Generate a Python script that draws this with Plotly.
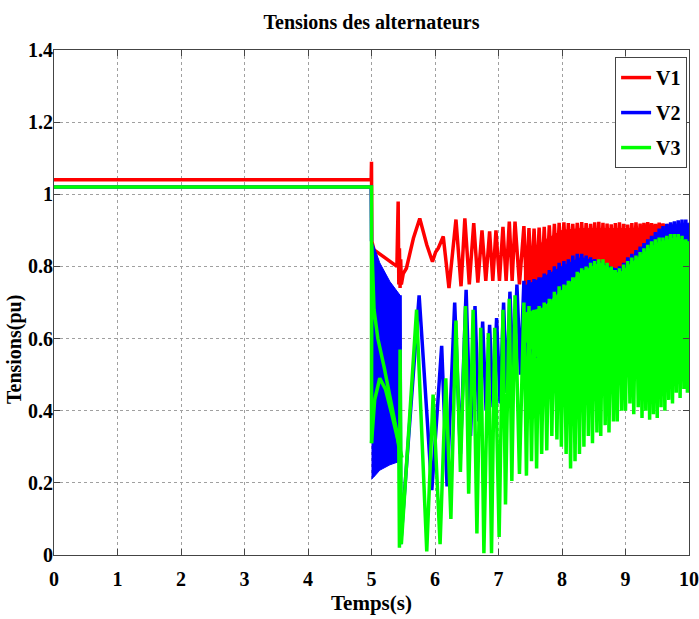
import plotly.graph_objects as go

# ---------------- data ----------------
# V1 : explicit extrema before the dense part
v1_t = [0, 4.995, 5.0, 5.005, 5.04, 5.23, 5.40, 5.42, 5.43, 5.44,
        5.45, 5.46, 5.47, 5.50, 5.55, 5.66, 5.76, 5.87, 5.96, 6.01,
        6.05, 6.13, 6.22, 6.33, 6.41, 6.47, 6.54, 6.61, 6.675, 6.74,
        6.80, 6.86, 6.91, 6.96, 7.015, 7.07, 7.12, 7.17, 7.215, 7.26,
        7.33]
v1_v = [1.04, 1.04, 1.09, 0.87, 0.846, 0.823, 0.80, 0.98, 0.75, 0.85,
        0.74, 0.82, 0.75, 0.78, 0.795, 0.878, 0.933, 0.86, 0.813, 0.84,
        0.85, 0.883, 0.74, 0.93, 0.745, 0.933, 0.75, 0.92, 0.755, 0.90,
        0.76, 0.897, 0.76, 0.90, 0.76, 0.91, 0.76, 0.924, 0.76, 0.924,
        0.75]

# V2 : explicit extrema (None = pen up)
v2_t = [0, 4.995, 5.0, None, 5.45, 5.46, 5.75, 5.95, 6.105, 6.19,
        6.31, 6.40, 6.49, 6.56, 6.63, 6.69, 6.75, 6.805, 6.86, 6.915,
        6.97, 7.025, 7.08, 7.13, 7.18, 7.235, 7.29, 7.345]
v2_v = [1.02, 1.02, 0.87, None, 0.72, 0.03, 0.72, 0.18, 0.58, 0.19,
        0.70, 0.28, 0.735, 0.33, 0.69, 0.37, 0.647, 0.40, 0.638, 0.41,
        0.657, 0.42, 0.70, 0.45, 0.73, 0.48, 0.75, 0.50]
# V2 : dense band just after the fault (upper / lower envelope)
v2_band_t = [5.0, 5.03, 5.13, 5.29, 5.45]
v2_band_hi = [0.87, 0.86, 0.81, 0.758, 0.72]
v2_band_lo = [0.21, 0.215, 0.235, 0.25, 0.26]

# V3 : explicit extrema
v3_t = [0, 4.995, 5.0, 5.0, 5.005, 5.04, 5.10, 5.20, 5.30, 5.40,
        5.43, 5.44, 5.45, 5.47, 5.71, 5.87, 5.97, 6.08, 6.17, 6.25,
        6.33, 6.40, 6.48, 6.53, 6.60, 6.66, 6.72, 6.77, 6.84, 6.89,
        6.94, 7.01, 7.07, 7.11, 7.17, 7.21, 7.26, 7.33]
v3_v = [1.02, 1.02, 1.02, 0.31, 0.86, 0.68, 0.60, 0.52, 0.43, 0.34,
        0.30, 0.02, 0.57, 0.03, 0.68, 0.01, 0.445, 0.03, 0.49, 0.10,
        0.65, 0.23, 0.69, 0.17, 0.68, 0.06, 0.63, 0.005, 0.615, 0.005,
        0.63, 0.05, 0.68, 0.14, 0.71, 0.205, 0.72, 0.225]
# V3 : secondary arc right after the fault
v3_arc_t = [5.0, 5.05, 5.13, 5.22, 5.32, 5.42, 5.48]
v3_arc_v = [0.31, 0.43, 0.49, 0.46, 0.39, 0.31, 0.27]

# Dense oscillation part (7.4 s - 10 s): peak times and trough times
dense_peak_t = [7.40, 7.48, 7.56, 7.64, 7.72, 7.80, 7.88, 7.955, 8.03, 8.10,
                8.17, 8.24, 8.31, 8.38, 8.45, 8.515, 8.58, 8.645, 8.71, 8.775,
                8.84, 8.905, 8.97, 9.035, 9.10, 9.165, 9.23, 9.29, 9.35, 9.41,
                9.47, 9.53, 9.59, 9.65, 9.71, 9.77, 9.83, 9.89, 9.95]
dense_trough_t = [7.44, 7.52, 7.60, 7.68, 7.76, 7.84, 7.92, 7.99, 8.065, 8.135,
                  8.205, 8.275, 8.345, 8.415, 8.48, 8.55, 8.61, 8.68, 8.74, 8.81,
                  8.87, 8.94, 9.00, 9.07, 9.13, 9.20, 9.26, 9.32, 9.38, 9.44,
                  9.50, 9.56, 9.62, 9.68, 9.74, 9.80, 9.86, 9.92, 9.975]

v1_dense_peak = [0.912, 0.906, 0.905, 0.908, 0.910, 0.914, 0.918, 0.921, 0.922, 0.920,
                 0.918, 0.921, 0.923, 0.920, 0.918, 0.922, 0.924, 0.921, 0.919, 0.917,
                 0.920, 0.922, 0.918, 0.916, 0.920, 0.922, 0.919, 0.921, 0.923, 0.920,
                 0.918, 0.921, 0.919, 0.917, 0.916, 0.915, 0.914, 0.915, 0.914]
v1_dense_trough = [0.74, 0.745, 0.75, 0.75, 0.76, 0.77, 0.78, 0.79, 0.79, 0.80,
                   0.805, 0.81, 0.81, 0.80, 0.80, 0.79, 0.79, 0.785, 0.775, 0.77,
                   0.77, 0.775, 0.785, 0.80, 0.81, 0.82, 0.83, 0.84, 0.85, 0.86,
                   0.87, 0.88, 0.89, 0.895, 0.90, 0.90, 0.90, 0.90, 0.90]

v2_dense_peak = [0.760, 0.762, 0.765, 0.770, 0.780, 0.790, 0.800, 0.810, 0.815, 0.820,
                 0.830, 0.835, 0.835, 0.830, 0.825, 0.820, 0.815, 0.810, 0.800, 0.795,
                 0.795, 0.800, 0.810, 0.825, 0.835, 0.845, 0.855, 0.865, 0.875, 0.885,
                 0.895, 0.905, 0.912, 0.918, 0.922, 0.925, 0.928, 0.930, 0.930]
v2_dense_trough = [0.52, 0.55, 0.53, 0.56, 0.58, 0.60, 0.63, 0.645, 0.65, 0.66,
                   0.67, 0.685, 0.695, 0.70, 0.71, 0.715, 0.72, 0.72, 0.71, 0.70,
                   0.69, 0.695, 0.705, 0.715, 0.725, 0.73, 0.74, 0.75, 0.76, 0.77,
                   0.775, 0.78, 0.78, 0.785, 0.79, 0.79, 0.79, 0.785, 0.775]

v3_dense_peak = [0.70, 0.69, 0.68, 0.69, 0.70, 0.71, 0.73, 0.745, 0.75, 0.76,
                 0.77, 0.785, 0.795, 0.80, 0.81, 0.815, 0.82, 0.82, 0.81, 0.80,
                 0.79, 0.795, 0.805, 0.815, 0.825, 0.83, 0.84, 0.85, 0.86, 0.87,
                 0.875, 0.88, 0.88, 0.885, 0.89, 0.89, 0.89, 0.885, 0.875]
v3_dense_trough = [0.22, 0.26, 0.24, 0.28, 0.29, 0.33, 0.32, 0.30, 0.28, 0.24,
                   0.26, 0.28, 0.30, 0.33, 0.31, 0.34, 0.33, 0.36, 0.34, 0.37,
                   0.37, 0.40, 0.40, 0.42, 0.39, 0.41, 0.38, 0.40, 0.375, 0.39,
                   0.38, 0.41, 0.40, 0.43, 0.42, 0.45, 0.435, 0.46, 0.45]

# Solid (visually filled) part of each dense oscillation: upper / lower edge
solid_t = [7.4, 7.7, 8.0, 8.3, 8.6, 8.9, 9.2, 9.5, 9.8, 10.0]
v1_solid_hi = [0.80, 0.87, 0.90, 0.905, 0.905, 0.905, 0.905, 0.905, 0.90, 0.90]
v1_solid_lo = [0.74, 0.76, 0.78, 0.80, 0.78, 0.77, 0.80, 0.85, 0.88, 0.88]
v2_solid_hi = [0.745, 0.77, 0.80, 0.825, 0.81, 0.79, 0.83, 0.885, 0.915, 0.92]
v2_solid_lo = [0.62, 0.64, 0.68, 0.72, 0.74, 0.72, 0.76, 0.80, 0.82, 0.82]
v3_solid_hi = [0.67, 0.685, 0.735, 0.785, 0.81, 0.78, 0.825, 0.865, 0.88, 0.865]
v3_solid_lo = [0.60, 0.53, 0.50, 0.48, 0.48, 0.49, 0.50, 0.49, 0.50, 0.52]

end_t = 10.0
v1_end, v2_end, v3_end = 0.915, 0.83, 0.87

x_ticks = [0, 1, 2, 3, 4, 5, 6, 7, 8, 9, 10]
y_ticks = [0, 0.2, 0.4, 0.6, 0.8, 1.0, 1.2, 1.4]
y_tick_labels = ["0", "0.2", "0.4", "0.6", "0.8", "1", "1.2", "1.4"]
series_names = ["V1", "V2", "V3"]


# ---------------- build full series ----------------
def full_series(pre_t, pre_v, peaks, troughs, end_v):
    t = list(pre_t)
    v = list(pre_v)
    for tp, vp, tt, vt in zip(dense_peak_t, peaks, dense_trough_t, troughs):
        t += [tp, tt]
        v += [vp, vt]
    t.append(end_t)
    v.append(end_v)
    return t, v


def band(tx, hi, lo):
    return list(tx) + list(tx)[::-1], list(hi) + list(lo)[::-1]


t1, y1 = full_series(v1_t, v1_v, v1_dense_peak, v1_dense_trough, v1_end)
t2, y2 = full_series(v2_t, v2_v, v2_dense_peak, v2_dense_trough, v2_end)
t3, y3 = full_series(v3_t, v3_v, v3_dense_peak, v3_dense_trough, v3_end)

RED, BLUE, GREEN = "#ff0000", "#0000ff", "#00ff00"
FONT = "Liberation Serif, Times New Roman, serif"
LW = 3.5

fig = go.Figure()


def add_band(tx, hi, lo, color):
    bx, by = band(tx, hi, lo)
    fig.add_trace(go.Scatter(x=bx, y=by, mode="lines", fill="toself",
                             fillcolor=color, line=dict(color=color, width=1),
                             showlegend=False, hoverinfo="skip"))


# V1
add_band(solid_t, v1_solid_hi, v1_solid_lo, RED)
fig.add_trace(go.Scatter(x=t1, y=y1, mode="lines", name=series_names[0],
                         line=dict(color=RED, width=LW), legendgroup="a"))
# V2
add_band(v2_band_t, v2_band_hi, v2_band_lo, BLUE)
add_band(solid_t, v2_solid_hi, v2_solid_lo, BLUE)
fig.add_trace(go.Scatter(x=t2, y=y2, mode="lines", name=series_names[1],
                         line=dict(color=BLUE, width=LW), legendgroup="b",
                         connectgaps=False))
# V3
add_band(solid_t, v3_solid_hi, v3_solid_lo, GREEN)
fig.add_trace(go.Scatter(x=t3, y=y3, mode="lines", name=series_names[2],
                         line=dict(color=GREEN, width=LW), legendgroup="c"))
fig.add_trace(go.Scatter(x=v3_arc_t, y=v3_arc_v, mode="lines",
                         line=dict(color=GREEN, width=LW), showlegend=False))

axis_common = dict(
    showline=True, linecolor="#444", linewidth=1, mirror="ticks",
    ticks="inside", ticklen=6, tickcolor="#444",
    showgrid=True, gridcolor="#a0a0a0", griddash="dot", gridwidth=1,
    zeroline=False, automargin=False,
    tickfont=dict(family=FONT, size=20, color="black", weight="bold"),
)

fig.update_layout(
    width=699, height=619,
    margin=dict(l=54, r=10, t=50, b=64, autoexpand=False),
    paper_bgcolor="white", plot_bgcolor="white",
    title=dict(text="Tensions des alternateurs", x=0.5, xref="paper",
               y=1 - 22 / 619, yref="container", xanchor="center", yanchor="middle",
               font=dict(family=FONT, size=20, color="black", weight="bold")),
    xaxis=dict(range=[0, 10], tickvals=x_ticks, ticklabelstandoff=6, **axis_common),
    yaxis=dict(range=[0, 1.4], tickvals=y_ticks, ticktext=y_tick_labels,
               ticklabelstandoff=-4, **axis_common),
    legend=dict(x=0.997, y=0.986, xanchor="right", yanchor="top",
                bgcolor="white", bordercolor="#444", borderwidth=1,
                font=dict(family=FONT, size=20, color="black", weight="bold"),
                tracegroupgap=6, itemwidth=30, traceorder="grouped"),
    showlegend=True,
    annotations=[
        dict(text="Temps(s)", xref="paper", yref="paper", x=0.5, y=(555 - 603) / 505,
             xanchor="center", yanchor="middle", showarrow=False,
             font=dict(family=FONT, size=21, color="black", weight="bold")),
        dict(text="Tensions(pu)", xref="paper", yref="paper", x=(14 - 54) / 635,
             y=(555 - 350) / 505, xanchor="center", yanchor="middle", showarrow=False,
             textangle=-90,
             font=dict(family=FONT, size=20, color="black", weight="bold")),
    ],
)

fig.write_html("out.html")
